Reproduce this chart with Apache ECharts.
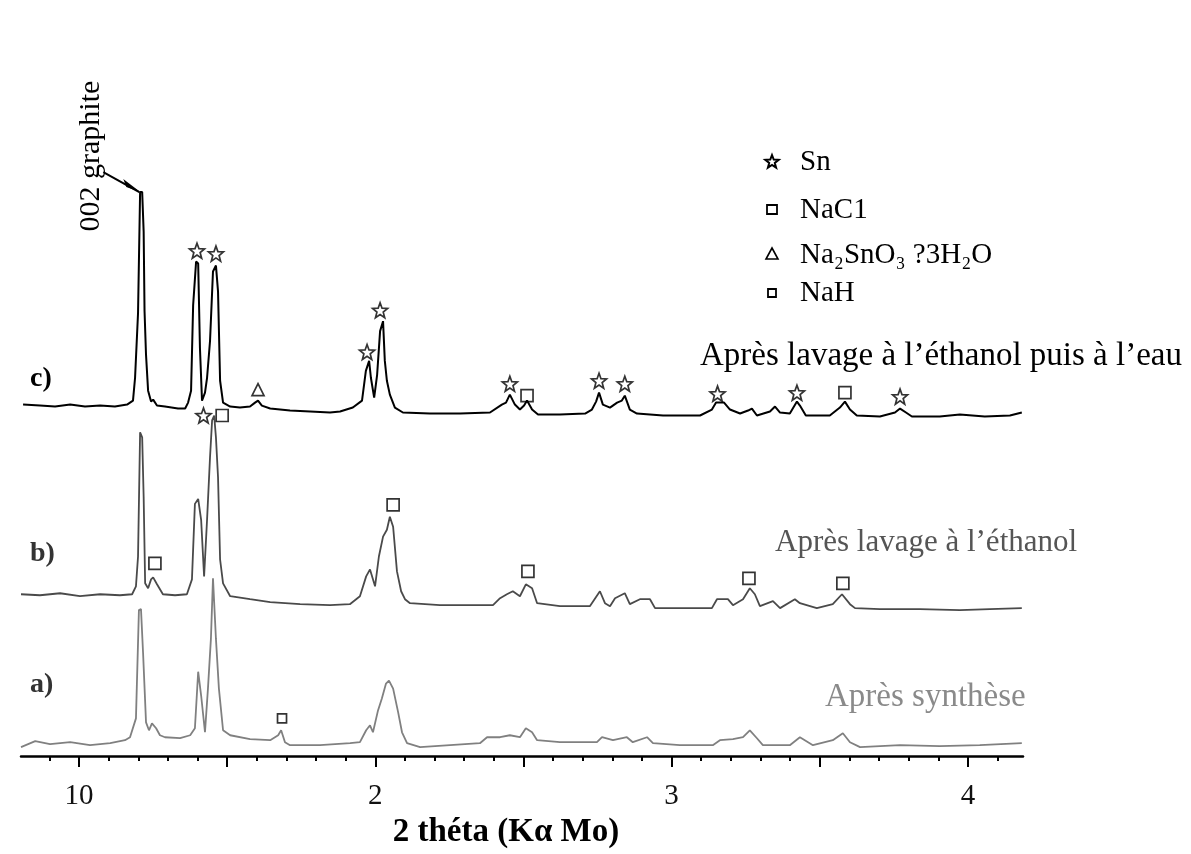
<!DOCTYPE html>
<html><head><meta charset="utf-8">
<script src="https://cdn.jsdelivr.net/npm/echarts@6/dist/echarts.min.js"></script>
<style>html,body{margin:0;padding:0;background:#fff}#c{width:1191px;height:854px}</style>
</head><body><div id="c"></div><script>
// ---- data (2θ in degrees, intensity in arbitrary units incl. vertical offset) ----
const curveC = [[8.11,354],[8.68,353],[9.19,352],[9.70,354],[10.20,352],[10.71,353],[11.21,352],[11.62,354],[11.82,358],
 [11.89,381],[11.99,446],[12.06,568],[12.13,568],[12.18,528],[12.21,448],[12.26,404],[12.33,368],[12.43,357],[12.50,359],[12.63,353],
 [12.90,352],[13.34,350],[13.58,350],[13.68,356],[13.78,368],[13.85,454],[13.95,498],[14.02,496],[14.08,411],[14.15,358],[14.25,366],
 [14.32,381],[14.42,418],[14.52,488],[14.62,494],[14.69,468],[14.76,378],[14.86,356],[15.10,352],[15.43,351],[15.77,352],[15.94,356],
 [16.04,358],[16.17,353],[16.45,350],[17.12,348],[17.80,347],[18.47,346],[18.81,347],[19.24,351],[19.55,358],[19.68,388],[19.79,398],
 [19.85,381],[19.96,361],[20.06,384],[20.16,428],[20.26,438],[20.32,398],[20.39,378],[20.49,364],[20.66,351],[20.93,346],[21.84,345],
 [22.86,345],[23.87,346],[24.27,354],[24.41,356],[24.54,364],[24.71,354],[24.88,349],[25.02,353],[25.12,358],[25.29,349],[25.49,344],
 [26.23,344],[27.08,345],[27.31,349],[27.45,357],[27.55,366],[27.68,354],[27.92,351],[28.16,356],[28.32,358],[28.42,363],[28.59,349],
 [28.83,345],[29.71,343],[30.96,343],[31.36,349],[31.50,356],[31.77,356],[31.97,349],[32.31,345],[32.58,348],[32.71,350],[32.88,343],
 [33.32,347],[33.49,352],[33.66,346],[33.99,345],[34.23,357],[34.33,353],[34.53,343],[35.34,343],[35.68,351],[35.85,357],[36.02,349],
 [36.25,343],[37.03,342],[37.54,346],[37.71,350],[37.91,346],[38.11,342],[39.05,342],[39.73,344],[40.57,342],[41.42,343],[41.82,346]];
const curveB = [[8.04,163],[8.68,162],[9.36,164],[10.03,161],[10.71,163],[11.38,162],[11.79,163],[11.92,171],[11.99,201],[12.06,326],
 [12.13,321],[12.18,261],[12.23,174],[12.33,169],[12.43,178],[12.50,180],[12.63,173],[12.83,163],[13.24,162],[13.64,163],[13.81,178],
 [13.91,254],[14.02,259],[14.12,238],[14.22,181],[14.32,238],[14.42,301],[14.49,338],[14.56,343],[14.62,321],[14.69,281],[14.76,198],
 [14.86,174],[15.10,161],[15.77,158],[16.45,155],[17.46,153],[18.47,152],[19.14,153],[19.48,161],[19.69,181],[19.82,188],[19.99,171],
 [20.12,201],[20.26,221],[20.39,228],[20.49,241],[20.60,231],[20.73,186],[20.87,166],[21.00,158],[21.17,154],[22.18,152],[23.19,152],
 [23.97,152],[24.21,159],[24.44,163],[24.64,166],[24.88,161],[25.08,173],[25.29,169],[25.46,154],[26.23,151],[27.24,151],[27.58,166],
 [27.75,154],[27.92,151],[28.09,159],[28.42,164],[28.59,153],[28.93,158],[29.27,158],[29.44,149],[30.62,149],[31.36,149],[31.53,158],
 [31.90,158],[32.07,152],[32.41,158],[32.64,169],[32.81,163],[32.98,151],[33.42,156],[33.66,149],[34.16,158],[34.33,154],[34.90,149],
 [35.44,153],[35.75,163],[36.02,153],[36.19,149],[37.03,148],[38.38,148],[39.73,147],[40.74,148],[41.82,149]];
const curveA = [[8.04,9],[8.52,15],[9.02,12],[9.70,14],[10.37,11],[11.05,13],[11.55,16],[11.72,19],[11.92,38],[12.02,147],[12.09,148],
 [12.16,104],[12.26,34],[12.36,26],[12.46,33],[12.60,28],[12.73,21],[12.90,19],[13.41,18],[13.75,21],[13.91,28],[14.02,85],[14.12,61],
 [14.25,24],[14.35,68],[14.45,118],[14.52,179],[14.62,118],[14.72,68],[14.86,26],[15.10,21],[15.77,17],[16.45,16],[16.72,21],[16.82,26],
 [16.95,14],[17.12,11],[18.13,11],[19.15,13],[19.48,14],[19.69,26],[19.82,31],[19.92,24],[20.09,46],[20.22,58],[20.36,73],[20.46,76],
 [20.60,68],[20.77,44],[20.90,24],[21.07,13],[21.51,9],[22.52,11],[23.53,13],[23.77,19],[24.21,19],[24.54,21],[24.88,19],[25.08,28],
 [25.29,24],[25.46,16],[26.23,14],[27.48,14],[27.65,19],[28.02,16],[28.49,19],[28.69,14],[29.17,19],[29.37,13],[30.28,11],[31.39,11],
 [31.63,16],[32.07,17],[32.41,19],[32.64,26],[32.88,18],[33.08,11],[33.99,11],[34.33,19],[34.77,11],[35.44,16],[35.78,23],[36.02,14],
 [36.36,9],[37.71,11],[39.05,10],[40.40,11],[41.82,13]];
// phase markers [2θ, height]
const snMarks = [[13.98,509],[14.62,506],[19.72,407],[20.16,449],[24.54,375],[27.55,378],[28.42,375],[31.55,365],[34.23,366],[37.71,362],[14.20,343]];
const naclMarks = [[25.12,363],[35.85,366],[12.56,194],[14.83,343],[20.60,253],[25.15,186],[32.61,179],[35.78,174]];
const hydrateMarks = [[16.04,369]];
const nahMarks = [[16.85,38]];
const majorTicks = [10,15,20,25,30,35,40];
const minorTicks = [9,11,12,13,14,16,17,18,19,21,22,23,24,26,27,28,29,31,32,33,34,36,37,38,39,41];
const tickLabels = {10:'10',20:'2',30:'3',40:'4'};
const xTitle = '2 théta (Kα Mo)';
const curveNames = ['c)','b)','a)'];
const curveCaptions = ['Après lavage à l\u2019éthanol puis à l\u2019eau','Après lavage à l\u2019éthanol','Après synthèse'];
const legendNames = ['Sn','NaC1','Na\u2082SnO\u2083 ?3H\u2082O','NaH'];
const peakNote = '002 graphite';

(function(){
const SERIF = '"Liberation Serif","Times New Roman",serif';
function starPts(cx, cy, R){
  const p = [];
  for (let i = 0; i < 10; i++) {
    const a = (-90 + i * 36) * Math.PI / 180, r = i % 2 ? 0.42 * R : R;
    p.push([cx + Math.cos(a) * r, cy + Math.sin(a) * r]);
  }
  return p;
}
const STAR = 'path://' + starPts(10, 10, 10).map((q, i) => (i ? 'L' : 'M') + q[0].toFixed(2) + ' ' + q[1].toFixed(2)).join(' ') + ' Z';
function lineSeries(data, color, w){
  return {type:'line', data, symbol:'none', lineStyle:{color, width:w}, z:2, animation:false};
}
function markSeries(data, symbol, size){
  return {type:'scatter', data, symbol, symbolSize:size, z:3, animation:false,
    itemStyle:{color:'rgba(255,255,255,0)', borderColor:'#000', borderWidth:1.7}};
}
const chart = echarts.init(document.getElementById('c'));
chart.setOption({
  backgroundColor:'#fff',
  animation:false,
  grid:{left:21, right:168, top:61, bottom:93},
  xAxis:[{
    type:'value', min:8.04, max:41.86,
    axisLine:{lineStyle:{color:'#000', width:2.5}},
    axisTick:{customValues:majorTicks, length:11, lineStyle:{color:'#000', width:2}},
    axisLabel:{customValues:[10,20,30,40], formatter:v => tickLabels[v] || '', margin:26,
      fontFamily:SERIF, fontSize:29, color:'#111'},
    splitLine:{show:false},
    name:xTitle, nameLocation:'middle', nameGap:57,
    nameTextStyle:{fontFamily:SERIF, fontSize:33, fontWeight:'bold', color:'#000', padding:[0,32,0,0]}
  },{
    type:'value', min:8.04, max:41.86, position:'bottom', offset:0,
    axisLine:{show:false},
    axisTick:{customValues:minorTicks, length:5, lineStyle:{color:'#000', width:2}},
    axisLabel:{show:false}, splitLine:{show:false}
  }],
  yAxis:{type:'value', min:0, max:700, show:false},
  series:[
    lineSeries(curveA, '#808080', 1.8),
    lineSeries(curveB, '#4a4a4a', 1.8),
    lineSeries(curveC, '#000', 2),
    markSeries(snMarks, STAR, 15),
    markSeries(naclMarks, 'rect', 12),
    markSeries(hydrateMarks, 'triangle', 12),
    markSeries(nahMarks, 'rect', 9)
  ]
});

const g = [];
const txt = (x, y, s, o) => ({type:'text', x, y, style:Object.assign({text:s, fontFamily:SERIF, fontSize:30, fill:'#000', textVerticalAlign:'middle'}, o||{})});
g.push(txt(700, 356, curveCaptions[0], {fontSize:33}));
g.push(txt(775, 543, curveCaptions[1], {fontSize:31, fill:'#555'}));
g.push(txt(825, 697, curveCaptions[2], {fontSize:33, fill:'#8a8a8a'}));
g.push(txt(30, 379, curveNames[0], {fontSize:28, fontWeight:'bold'}));
g.push(txt(30, 554, curveNames[1], {fontSize:28, fontWeight:'bold', fill:'#333'}));
g.push(txt(30, 685, curveNames[2], {fontSize:28, fontWeight:'bold', fill:'#333'}));
const legY = [162, 210, 255, 293];
legendNames.forEach((n, i) => g.push(txt(800, legY[i], n, {fontSize:29})));
g.push({type:'polygon', shape:{points:starPts(772, legY[0], 7)}, style:{fill:'none', stroke:'#000', lineWidth:2}});
g.push({type:'rect', shape:{x:767, y:legY[1]-5, width:10, height:9}, style:{fill:'none', stroke:'#000', lineWidth:1.8}});
g.push({type:'polygon', shape:{points:[[772,legY[2]-7],[778,legY[2]+4],[766,legY[2]+4]]}, style:{fill:'none', stroke:'#000', lineWidth:1.6}});
g.push({type:'rect', shape:{x:768, y:legY[3]-4, width:8, height:8}, style:{fill:'none', stroke:'#000', lineWidth:1.8}});
const pk = chart.convertToPixel({gridIndex:0}, [12.10, 568]);
g.push({type:'text', x:pk[0]-50, y:pk[1]-36, rotation:Math.PI/2,
  style:{text:peakNote, fontFamily:SERIF, fontSize:30, fill:'#000', textAlign:'center', textVerticalAlign:'middle'}});
g.push({type:'line', shape:{x1:pk[0]-38, y1:pk[1]-20, x2:pk[0]-2, y2:pk[1]}, style:{stroke:'#000', lineWidth:2}});
g.push({type:'polygon', shape:{points:[[pk[0]-1,pk[1]],[pk[0]-18,pk[1]-13],[pk[0]-15,pk[1]-5]]}, style:{fill:'#000'}});
chart.setOption({graphic:g});
})();
</script></body></html>
